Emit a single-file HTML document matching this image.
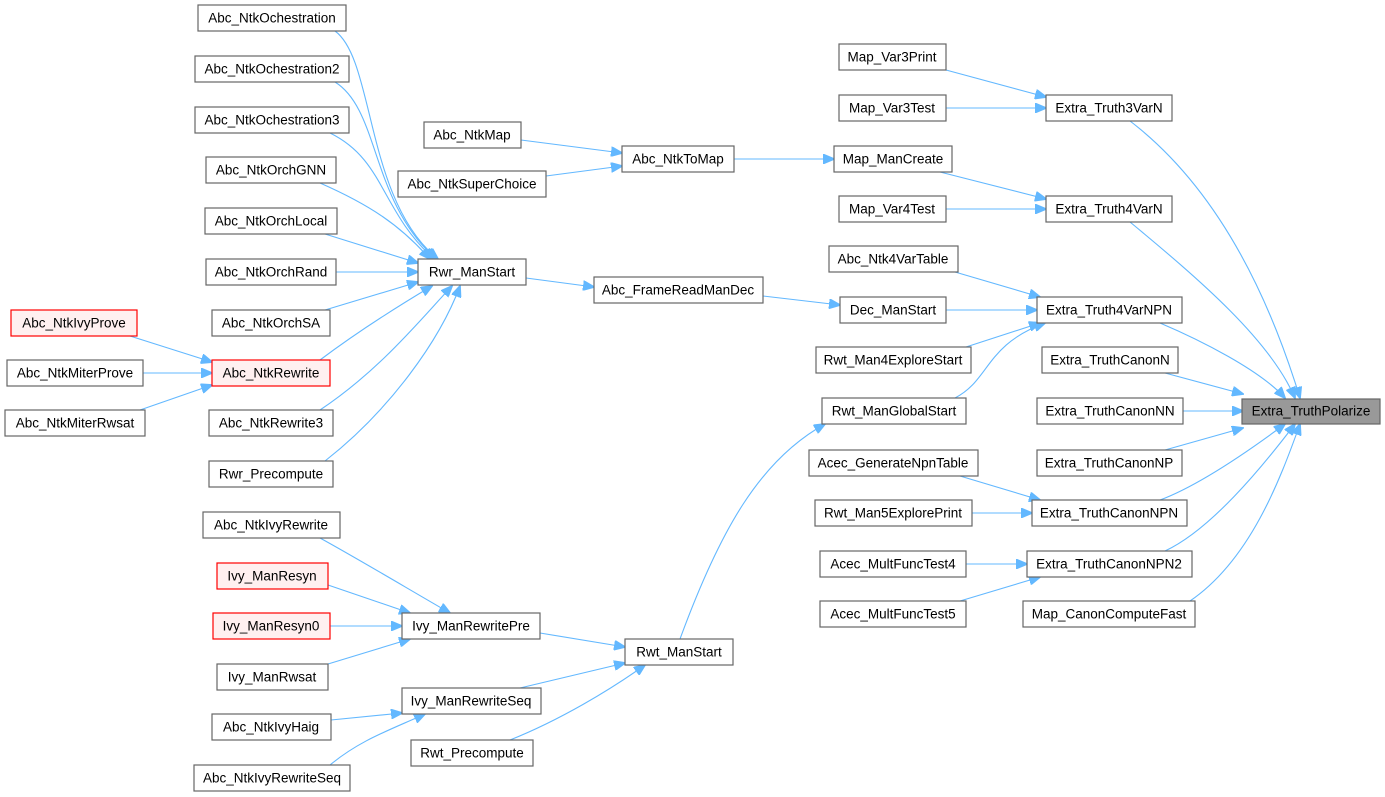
<!DOCTYPE html>
<html><head><meta charset="utf-8"><style>
html,body{margin:0;padding:0;background:#fff;}
svg{display:block;}
text{font-family:"Liberation Sans",Arial,sans-serif;font-size:13.5px;fill:#000;text-anchor:middle;dominant-baseline:central;}
.b rect{fill:#fff;stroke:#666;stroke-width:1.2;}
.r rect{fill:#fff0f0;stroke:#ff0000;stroke-width:1.2;}
.g rect{fill:#999;stroke:#666;stroke-width:1.2;}
path.e{fill:none;stroke:#63b8ff;stroke-width:1.1;marker-end:url(#ah);}
</style></head><body>
<svg width="1385" height="797" viewBox="0 0 1385 797" xmlns="http://www.w3.org/2000/svg">
<defs><marker id="ah" markerWidth="12" markerHeight="10" refX="11" refY="5" orient="auto" markerUnits="userSpaceOnUse"><path d="M0,0 L12,5 L0,10 z" fill="#63b8ff" stroke="#63b8ff"/></marker></defs>
<g>
<path class="e" d="M335,31 C375,60 365,200 438,259"/>
<path class="e" d="M335,82 C380,110 370,200 436,259"/>
<path class="e" d="M330,133 C385,160 380,210 434,259"/>
<path class="e" d="M320,183 C370,205 400,225 430,259"/>
<path class="e" d="M325,234 L418,263"/>
<path class="e" d="M336,272 L418,272"/>
<path class="e" d="M325,310 L418,282"/>
<path class="e" d="M320,360 C360,330 400,305 432,286"/>
<path class="e" d="M320,410 C380,370 420,320 452,286"/>
<path class="e" d="M325,461 C390,410 440,340 460,286"/>
<path class="e" d="M130,336 L212,362"/>
<path class="e" d="M143,373 L212,373"/>
<path class="e" d="M140,410 L212,385"/>
<path class="e" d="M521,140 L622,153"/>
<path class="e" d="M546,176 L622,166"/>
<path class="e" d="M734,159 L834,159"/>
<path class="e" d="M526,278 L594,287"/>
<path class="e" d="M763,296 L840,305"/>
<path class="e" d="M940,172 L1046,199"/>
<path class="e" d="M946,70 L1046,97"/>
<path class="e" d="M946,108 L1046,108"/>
<path class="e" d="M946,209 L1046,209"/>
<path class="e" d="M955,272 L1040,297"/>
<path class="e" d="M946,310 L1037,310"/>
<path class="e" d="M966,347 L1040,323"/>
<path class="e" d="M955,398 C990,380 985,345 1045,323"/>
<path class="e" d="M960,476 L1040,500"/>
<path class="e" d="M972,513 L1032,513"/>
<path class="e" d="M966,564 L1027,564"/>
<path class="e" d="M960,601 L1040,577"/>
<path class="e" d="M1130,121 C1220,190 1270,300 1300,398"/>
<path class="e" d="M1130,222 C1200,280 1270,340 1295,398"/>
<path class="e" d="M1160,323 C1200,340 1260,370 1285,398"/>
<path class="e" d="M1165,373 L1243,394"/>
<path class="e" d="M1183,411 L1243,411"/>
<path class="e" d="M1165,450 L1243,428"/>
<path class="e" d="M1160,500 C1200,485 1250,450 1285,424"/>
<path class="e" d="M1165,551 C1210,530 1260,470 1295,424"/>
<path class="e" d="M1190,601 C1250,560 1280,480 1300,424"/>
<path class="e" d="M320,538 C360,560 410,590 450,613"/>
<path class="e" d="M328,585 L410,613"/>
<path class="e" d="M330,626 L402,626"/>
<path class="e" d="M328,664 L410,639"/>
<path class="e" d="M331,720 L402,713"/>
<path class="e" d="M330,765 C360,740 390,730 425,714"/>
<path class="e" d="M540,633 L625,647"/>
<path class="e" d="M520,688 L625,663"/>
<path class="e" d="M510,740 C560,720 610,690 645,665"/>
<path class="e" d="M680,639 C720,530 760,460 825,424"/>
</g>
<g class="b">
<rect x="198" y="5" width="148" height="26"/><text x="272" y="18">Abc_NtkOchestration</text>
<rect x="195" y="56" width="154" height="26"/><text x="272" y="69">Abc_NtkOchestration2</text>
<rect x="195" y="107" width="154" height="26"/><text x="272" y="120">Abc_NtkOchestration3</text>
<rect x="206" y="157" width="130" height="26"/><text x="271" y="170">Abc_NtkOrchGNN</text>
<rect x="205" y="208" width="132" height="26"/><text x="271" y="221">Abc_NtkOrchLocal</text>
<rect x="206" y="259" width="130" height="26"/><text x="271" y="272">Abc_NtkOrchRand</text>
<rect x="212" y="310" width="118" height="26"/><text x="271" y="323">Abc_NtkOrchSA</text>
<rect x="209" y="410" width="124" height="26"/><text x="271" y="423">Abc_NtkRewrite3</text>
<rect x="209" y="461" width="124" height="26"/><text x="271" y="474">Rwr_Precompute</text>
<rect x="7" y="360" width="136" height="26"/><text x="75" y="373">Abc_NtkMiterProve</text>
<rect x="5" y="410" width="140" height="26"/><text x="75" y="423">Abc_NtkMiterRwsat</text>
<rect x="418" y="259" width="108" height="26"/><text x="472" y="272">Rwr_ManStart</text>
<rect x="424" y="122" width="97" height="26"/><text x="472" y="135">Abc_NtkMap</text>
<rect x="398" y="171" width="148" height="26"/><text x="472" y="184">Abc_NtkSuperChoice</text>
<rect x="622" y="146" width="112" height="26"/><text x="678" y="159">Abc_NtkToMap</text>
<rect x="594" y="277" width="169" height="26"/><text x="678" y="290">Abc_FrameReadManDec</text>
<rect x="834" y="146" width="118" height="26"/><text x="893" y="159">Map_ManCreate</text>
<rect x="839" y="44" width="107" height="26"/><text x="892" y="57">Map_Var3Print</text>
<rect x="839" y="95" width="107" height="26"/><text x="892" y="108">Map_Var3Test</text>
<rect x="839" y="196" width="107" height="26"/><text x="892" y="209">Map_Var4Test</text>
<rect x="829" y="246" width="129" height="26"/><text x="893" y="259">Abc_Ntk4VarTable</text>
<rect x="840" y="297" width="106" height="26"/><text x="893" y="310">Dec_ManStart</text>
<rect x="816" y="347" width="155" height="26"/><text x="893" y="360">Rwt_Man4ExploreStart</text>
<rect x="822" y="398" width="144" height="26"/><text x="894" y="411">Rwt_ManGlobalStart</text>
<rect x="809" y="450" width="169" height="26"/><text x="893" y="463">Acec_GenerateNpnTable</text>
<rect x="815" y="500" width="157" height="26"/><text x="893" y="513">Rwt_Man5ExplorePrint</text>
<rect x="820" y="551" width="146" height="26"/><text x="893" y="564">Acec_MultFuncTest4</text>
<rect x="820" y="601" width="146" height="26"/><text x="893" y="614">Acec_MultFuncTest5</text>
<rect x="1046" y="95" width="126" height="26"/><text x="1109" y="108">Extra_Truth3VarN</text>
<rect x="1046" y="196" width="126" height="26"/><text x="1109" y="209">Extra_Truth4VarN</text>
<rect x="1037" y="297" width="145" height="26"/><text x="1109" y="310">Extra_Truth4VarNPN</text>
<rect x="1042" y="347" width="136" height="26"/><text x="1110" y="360">Extra_TruthCanonN</text>
<rect x="1037" y="398" width="146" height="26"/><text x="1110" y="411">Extra_TruthCanonNN</text>
<rect x="1037" y="450" width="145" height="26"/><text x="1109" y="463">Extra_TruthCanonNP</text>
<rect x="1032" y="500" width="155" height="26"/><text x="1109" y="513">Extra_TruthCanonNPN</text>
<rect x="1027" y="551" width="165" height="26"/><text x="1109" y="564">Extra_TruthCanonNPN2</text>
<rect x="1023" y="601" width="172" height="26"/><text x="1109" y="614">Map_CanonComputeFast</text>
<rect x="203" y="512" width="137" height="26"/><text x="271" y="525">Abc_NtkIvyRewrite</text>
<rect x="217" y="664" width="111" height="26"/><text x="272" y="677">Ivy_ManRwsat</text>
<rect x="212" y="714" width="119" height="26"/><text x="271" y="727">Abc_NtkIvyHaig</text>
<rect x="194" y="765" width="156" height="26"/><text x="272" y="778">Abc_NtkIvyRewriteSeq</text>
<rect x="402" y="613" width="138" height="26"/><text x="471" y="626">Ivy_ManRewritePre</text>
<rect x="402" y="688" width="139" height="26"/><text x="471" y="701">Ivy_ManRewriteSeq</text>
<rect x="411" y="740" width="122" height="26"/><text x="472" y="753">Rwt_Precompute</text>
<rect x="625" y="639" width="108" height="26"/><text x="679" y="652">Rwt_ManStart</text>
</g>
<g class="r">
<rect x="11" y="310" width="126" height="26"/><text x="74" y="323">Abc_NtkIvyProve</text>
<rect x="212" y="360" width="118" height="26"/><text x="271" y="373">Abc_NtkRewrite</text>
<rect x="217" y="563" width="111" height="26"/><text x="272" y="576">Ivy_ManResyn</text>
<rect x="213" y="613" width="117" height="26"/><text x="271" y="626">Ivy_ManResyn0</text>
</g>
<g class="g">
<rect x="1242" y="399" width="138" height="25"/><text x="1311" y="411">Extra_TruthPolarize</text>
</g>
</svg>
</body></html>
